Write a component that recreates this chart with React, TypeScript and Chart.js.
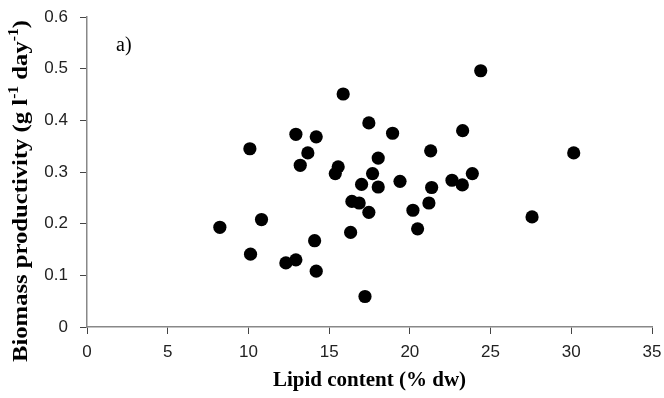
import React, { useEffect, useRef } from "react";
import { Chart, registerables } from "chart.js";

Chart.register(...registerables);

// Lipid content (% dw)
const lipidContent: number[] = [
  15.87, 17.46, 12.94, 14.2, 10.09, 13.68, 13.21, 15.56, 15.38, 17.69,
  17.01, 16.41, 16.86, 17.46, 16.33, 10.81, 8.23, 14.1, 10.13, 12.32,
  12.94, 14.2, 17.22, 18.93, 24.39, 23.27, 21.29, 30.15, 18.04, 18.04,
  19.39, 22.61, 23.87, 23.25, 21.35, 21.18, 20.19, 20.48, 27.57,
];
// Biomass productivity (g l-1 day-1)
const biomassProductivity: number[] = [
  0.451, 0.395, 0.373, 0.368, 0.345, 0.337, 0.313, 0.31, 0.297, 0.297,
  0.276, 0.243, 0.24, 0.222, 0.183, 0.208, 0.193, 0.167, 0.141, 0.124,
  0.13, 0.108, 0.059, 0.375, 0.496, 0.38, 0.341, 0.337, 0.327, 0.271,
  0.282, 0.284, 0.297, 0.275, 0.27, 0.24, 0.226, 0.19, 0.213,
];
const xTickLabels: string[] = ["0", "5", "10", "15", "20", "25", "30", "35"];
const yTickLabels: string[] = ["0", "0.1", "0.2", "0.3", "0.4", "0.5", "0.6"];
const xTitle = "Lipid content (% dw)";
const yTitleParts: { text: string; sup: boolean }[] = [
  { text: "Biomass productivity (g l", sup: false },
  { text: "-1", sup: true },
  { text: " day", sup: false },
  { text: "-1", sup: true },
  { text: ")", sup: false },
];
const panelLabel = "a)";

const SERIF = '"Liberation Serif", "Times New Roman", serif';
const SANS = '"Liberation Sans", Arial, sans-serif';

const textPlugin = {
  id: "extraText",
  afterDraw(chart: any) {
    const ctx = chart.ctx;
    ctx.save();
    // panel label
    ctx.fillStyle = "#000";
    ctx.font = `20px ${SERIF}`;
    ctx.textAlign = "left";
    ctx.textBaseline = "alphabetic";
    ctx.fillText(panelLabel, 116, 51);

    // rotated y title with superscripts
    const big = `bold 22px ${SERIF}`;
    const small = `bold 14px ${SERIF}`;
    let total = 0;
    for (const p of yTitleParts) {
      ctx.font = p.sup ? small : big;
      total += ctx.measureText(p.text).width;
    }
    const targetLen = 342;
    const k = targetLen / total;
    ctx.translate(27, 191);
    ctx.rotate(-Math.PI / 2);
    ctx.scale(k, 1);
    let x = -total / 2;
    for (const p of yTitleParts) {
      ctx.font = p.sup ? small : big;
      ctx.fillText(p.text, x, p.sup ? -9 : 0);
      x += ctx.measureText(p.text).width;
    }
    ctx.restore();
  },
};

export default function App() {
  const ref = useRef<HTMLCanvasElement | null>(null);
  useEffect(() => {
    if (!ref.current) return;
    const points = lipidContent.map((x, i) => ({ x, y: biomassProductivity[i] }));
    const chart = new Chart(ref.current, {
      type: "scatter",
      data: {
        datasets: [
          {
            data: points,
            backgroundColor: "#000",
            borderColor: "#000",
            pointRadius: 6.6,
            pointHoverRadius: 6.6,
            borderWidth: 0,
          },
        ],
      },
      options: {
        responsive: false,
        animation: false,
        events: [],
        layout: { padding: { left: 0, right: 12, top: 17, bottom: 0 } },
        plugins: { legend: { display: false }, tooltip: { enabled: false } },
        scales: {
          x: {
            type: "linear",
            min: 0,
            max: 35,
            ticks: {
              stepSize: 5,
              padding: 8,
              color: "#222",
              font: { family: SANS, size: 17 },
              callback: (_v: any, i: number) => xTickLabels[i],
            },
            grid: { drawOnChartArea: false, tickLength: 7, color: "#444", tickWidth: 1 },
            border: { color: "#888", width: 1.5 },
            title: {
              display: true,
              text: xTitle,
              color: "#000",
              font: { family: SERIF, size: 21, weight: "bold" },
              padding: { top: 0, bottom: 5 },
            },
            afterFit: (s: any) => {
              s.height = 71;
              s.paddingLeft = 0;
              s.paddingRight = 0;
            },
          },
          y: {
            type: "linear",
            min: 0,
            max: 0.6,
            ticks: {
              stepSize: 0.1,
              padding: 12,
              color: "#222",
              font: { family: SANS, size: 17 },
              callback: (_v: any, i: number) => yTickLabels[i],
            },
            grid: { drawOnChartArea: false, tickLength: 7, color: "#444", tickWidth: 1 },
            border: { color: "#888", width: 1.5 },
            afterFit: (s: any) => {
              s.width = 87;
              s.paddingTop = 0;
              s.paddingBottom = 0;
            },
          },
        },
      },
      plugins: [textPlugin],
    });
    return () => chart.destroy();
  }, []);
  return (
    <div style={{ position: "absolute", left: 0, top: 0, width: 664, height: 398, background: "#fff" }}>
      <canvas ref={ref} width={664} height={398} style={{ display: "block" }} />
    </div>
  );
}
